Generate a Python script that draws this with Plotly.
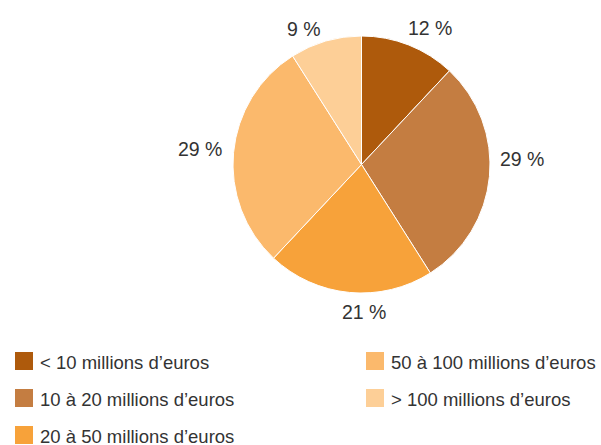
import math
import plotly.graph_objects as go

categories = [
    "< 10 millions d\u2019euros",
    "10 à 20 millions d\u2019euros",
    "20 à 50 millions d\u2019euros",
    "50 à 100 millions d\u2019euros",
    "> 100 millions d\u2019euros",
]
shares = [12, 29, 21, 29, 9]
colors = ["#AE5A0C", "#C47D41", "#F7A23A", "#FBB96C", "#FDCF97"]

# small hand nudges (px) applied to each percentage label
label_nudges = [(12, 7), (0, -21), (16, 0), (-1, 0), (-15, 9)]

W, H = 601, 445
FONT = "Liberation Sans, Arial, Helvetica, sans-serif"
TEXT = "#333333"

# pie geometry in pixels
CX, CY, R = 361.5, 164.5, 128.5

fig = go.Figure(
    go.Pie(
        labels=categories,
        values=shares,
        sort=False,
        direction="clockwise",
        rotation=0,
        marker=dict(colors=colors, line=dict(color="white", width=1)),
        textinfo="none",
        showlegend=False,
        hoverinfo="label+percent",
        domain=dict(x=[(CX - R) / W, (CX + R) / W],
                    y=[1 - (CY + R) / H, 1 - (CY - R) / H]),
    )
)

shapes, annotations = [], []

# percentage labels just outside each slice, around its mid-angle
total = sum(shares)
start = 0.0
for v, (nx, ny) in zip(shares, label_nudges):
    mid = (start + v / 2) / total * 2 * math.pi
    start += v
    s, c = math.sin(mid), math.cos(mid)
    label = f"{v} %"
    half_w = 5.6 * len(label)
    half_h = 8
    dist = R + 10 + abs(s) * half_w + abs(c) * half_h
    px, py = CX + s * dist + nx, CY - c * dist + ny
    annotations.append(dict(xref="paper", yref="paper",
                            x=px / W, y=1 - py / H,
                            xanchor="center", yanchor="middle",
                            text=label, showarrow=False,
                            font=dict(family=FONT, size=19.5, color=TEXT)))

# Two-column legend: squares and labels
col_x = [15, 366]
row_y = [352, 389, 426]
for i, (name, col) in enumerate(zip(categories, colors)):
    c, r = (0, i) if i < 3 else (1, i - 3)
    x0, y0 = col_x[c], row_y[r]
    shapes.append(dict(type="rect", xref="paper", yref="paper",
                       x0=x0 / W, x1=(x0 + 18) / W,
                       y0=1 - (y0 + 18) / H, y1=1 - y0 / H,
                       fillcolor=col, line=dict(width=0)))
    annotations.append(dict(xref="paper", yref="paper",
                            x=(x0 + 23) / W, y=1 - (y0 + 10) / H,
                            xanchor="left", yanchor="middle",
                            text=name, showarrow=False,
                            font=dict(family=FONT, size=18.5, color=TEXT)))

fig.update_layout(
    width=W, height=H,
    margin=dict(l=0, r=0, t=0, b=0),
    paper_bgcolor="white", plot_bgcolor="white",
    shapes=shapes, annotations=annotations,
)

fig.write_html("out.html")
